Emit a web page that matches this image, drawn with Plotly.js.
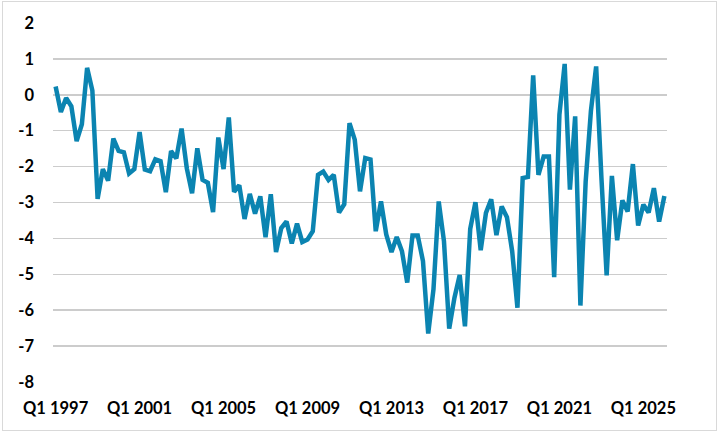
<!DOCTYPE html>
<html>
<head>
<meta charset="utf-8">
<script src="https://cdn.plot.ly/plotly-3.0.1.min.js"></script>
<style>
  html, body { margin: 0; padding: 0; background: #fff; }
  #frame { position: absolute; left: 2px; top: 1px; width: 713px; height: 428px; border: 1px solid #d9d9d9; }
  #chart { position: absolute; left: 0; top: 0; width: 721px; height: 433px; }
</style>
</head>
<body>
<div id="frame"></div>
<div id="chart"></div>
<script>
// quarterly series, Q1 1997 .. Q1 2026
var firstYear = 1997;
var values = [
  0.23, -0.48, -0.09, -0.32,
  -1.29, -0.82, 0.75, 0.12,
  -2.9, -2.07, -2.39, -1.22,
  -1.56, -1.6, -2.19, -2.07,
  -1.04, -2.08, -2.13, -1.8,
  -1.85, -2.71, -1.57, -1.77,
  -0.94, -2.05, -2.74, -1.49,
  -2.37, -2.45, -3.27, -1.19,
  -2.07, -0.63, -2.7, -2.52,
  -3.46, -2.76, -3.31, -2.83,
  -3.97, -2.77, -4.38, -3.71,
  -3.53, -4.14, -3.59, -4.1,
  -4.03, -3.8, -2.23, -2.14,
  -2.37, -2.23, -3.28, -3.05,
  -0.79, -1.25, -2.69, -1.76,
  -1.8, -3.8, -2.97, -3.89,
  -4.38, -3.96, -4.36, -5.23,
  -3.92, -3.92, -4.63, -6.65,
  -5.42, -2.97, -4.08, -6.51,
  -5.65, -5.02, -6.45, -3.74,
  -2.99, -4.33, -3.29, -2.91,
  -3.91, -3.11, -3.41, -4.36,
  -5.93, -2.32, -2.29, 0.54,
  -2.23, -1.72, -1.72, -5.08,
  -0.55, 0.86, -2.64, -0.6,
  -5.87, -2.42, -0.45, 0.79,
  -2.3, -5.03, -2.26, -4.05,
  -2.94, -3.25, -1.93, -3.64,
  -3.06, -3.28, -2.6, -3.53,
  -2.82
];
var tickYears = [1997, 2001, 2005, 2009, 2013, 2017, 2021, 2025];
var yTicks = [2, 1, 0, -1, -2, -3, -4, -5, -6, -7, -8];

var quarters = values.map(function(v, i) {
  return 'Q' + (i % 4 + 1) + ' ' + (firstYear + Math.floor(i / 4));
});
var tickLabels = tickYears.map(function(y) { return 'Q1 ' + y; });

var trace = {
  x: quarters,
  y: values,
  type: 'scatter',
  mode: 'lines',
  line: { color: '#0b84b1', width: 4.5 },
  hoverinfo: 'x+y'
};

var font = { family: 'Lato, "Open Sans", sans-serif', size: 16, color: '#000' };

var layout = {
  width: 721,
  height: 433,
  margin: { l: 53, r: 54, t: 23, b: 51, pad: 0 },
  paper_bgcolor: 'rgba(0,0,0,0)',
  plot_bgcolor: 'rgba(0,0,0,0)',
  showlegend: false,
  font: font,
  xaxis: {
    type: 'category',
    range: [-0.5, values.length - 0.5],
    tickmode: 'array',
    tickvals: tickLabels,
    ticktext: tickLabels,
    showgrid: false,
    zeroline: false,
    showline: false,
    ticks: '',
    tickangle: 0,
    tickfont: { family: font.family, size: 16.5, color: '#000', weight: 'bold' },
    ticklabelstandoff: 14
  },
  yaxis: {
    range: [-8, 2],
    tickmode: 'array',
    tickvals: yTicks,
    ticktext: yTicks.map(String),
    showgrid: true,
    gridcolor: '#cccccc',
    gridwidth: 1.5,
    zeroline: false,
    showline: false,
    ticks: '',
    tickfont: { family: font.family, size: 16.5, color: '#000', weight: 'bold' },
    ticklabelstandoff: 18
  }
};

Plotly.newPlot('chart', [trace], layout, { displayModeBar: false, staticPlot: true });
</script>
</body>
</html>
